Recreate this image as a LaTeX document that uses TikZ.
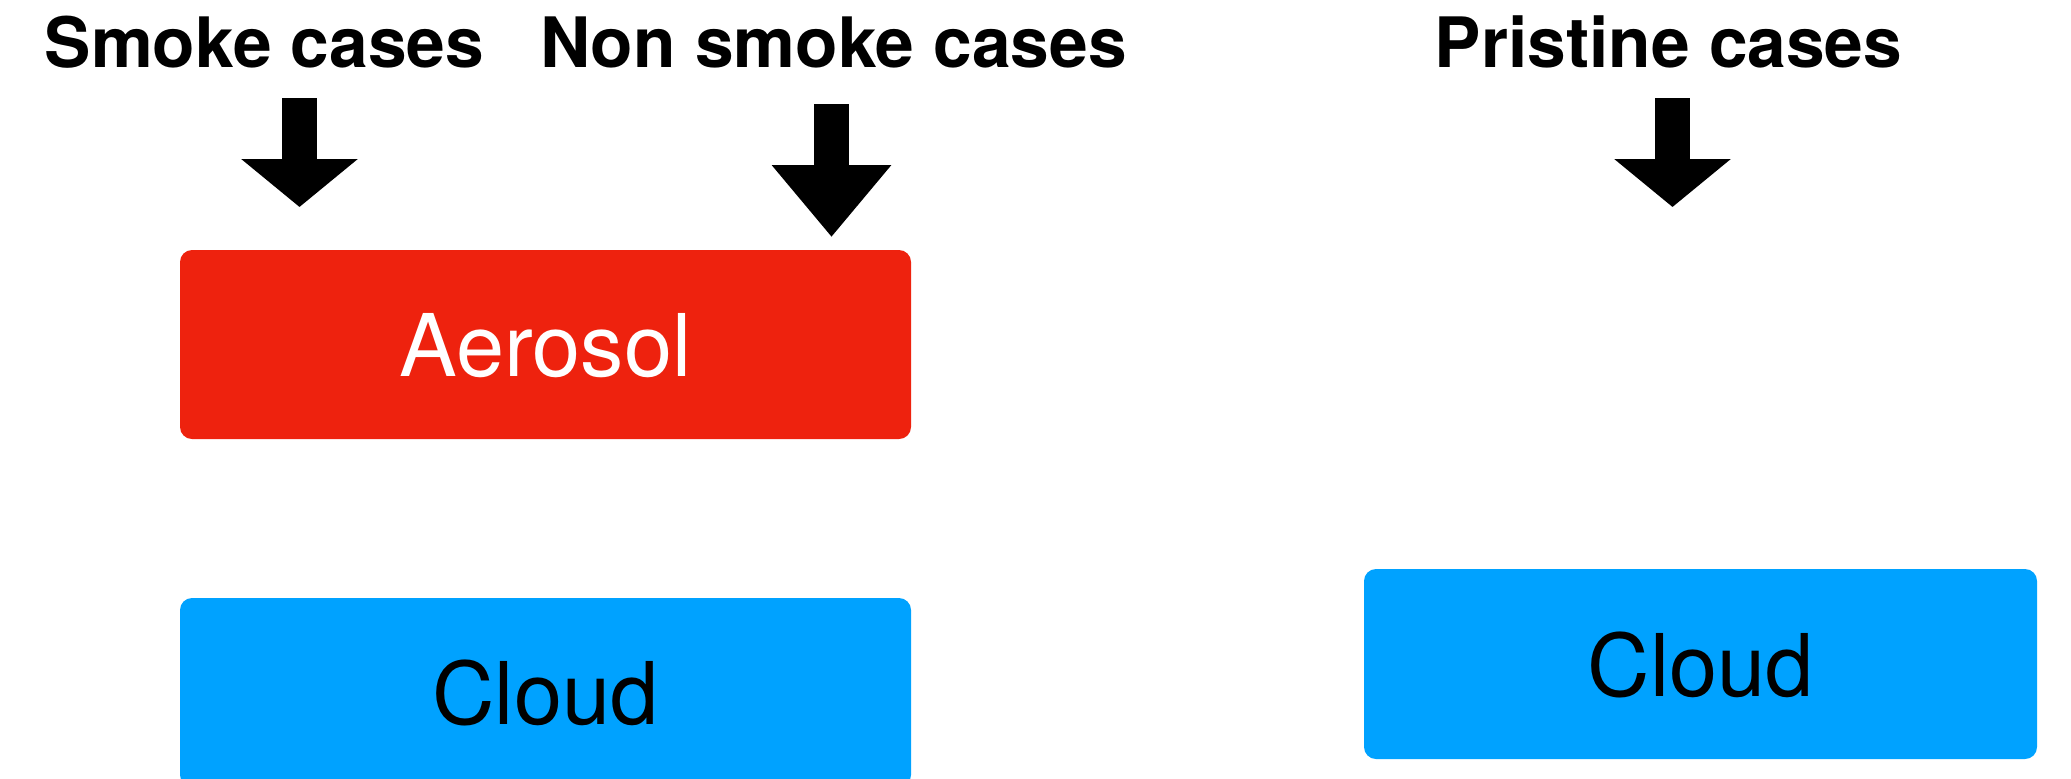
\documentclass[tikz,border=0pt]{standalone}
\usepackage{fontspec}
\setsansfont{TeX Gyre Heros}
\usetikzlibrary{arrows.meta}
\definecolor{kred}{RGB}{238,34,14}
\definecolor{kblue}{RGB}{0,162,255}
\begin{document}
\begin{tikzpicture}[x=0.5pt,y=-0.5pt,
  title/.style={font=\sffamily\bfseries\fontsize{34.75pt}{40pt}\selectfont, inner sep=0pt, anchor=base},
  boxlabel/.style={font=\sffamily\fontsize{43.25pt}{50pt}\selectfont, rounded corners=6pt, inner sep=0pt, text depth=0pt},
  bigarrow/.style={line width=17.5pt, -{Triangle[length=24pt,width=57pt]}},
  longarrow/.style={line width=17.5pt, -{Triangle[length=36pt,width=57.5pt]}}]
\useasboundingbox (0,0) rectangle (2071,778);
\clip (0,0) rectangle (2071,778);
% titles
\node[title] (smoke) at (264.5,67) {Smoke cases};
\node[title] (nonsmoke) at (833.5,67) {Non smoke cases};
\node[title] (pristine) at (1668.5,67) {Pristine cases};
% boxes
\node[boxlabel, fill=kred, text=white, minimum width=365.5pt, minimum height=94.5pt] (aerosol) at (545.5,344.5) {Aerosol};
\node[boxlabel, fill=kblue, text=black, minimum width=365.5pt, minimum height=94.5pt] (cloudL) at (545.5,692.5) {Cloud};
\node[boxlabel, fill=kblue, text=black, minimum width=336.5pt, minimum height=95pt] (cloudR) at (1700.5,664) {Cloud};
% arrows
\coordinate (sA) at (299.5,98);
\coordinate (sB) at (299.5,207);
\coordinate (nA) at (831.5,104);
\coordinate (nB) at (831.5,237);
\coordinate (pA) at (1672.5,98);
\coordinate (pB) at (1672.5,207);
\draw[bigarrow] (sA) -- (sB);
\draw[longarrow] (nA) -- (nB);
\draw[bigarrow] (pA) -- (pB);
\end{tikzpicture}
\end{document}
